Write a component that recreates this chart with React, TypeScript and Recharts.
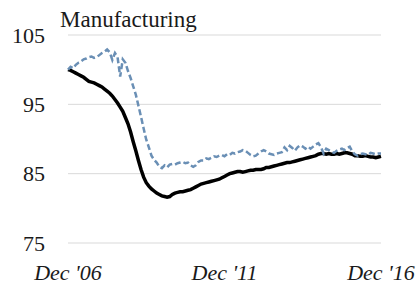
import React from 'react'
import { LineChart, Line, XAxis, YAxis, CartesianGrid } from 'recharts'

// monthly index, Dec 2006 = 100, Dec '06 .. Dec '16
const solidSeries = [
  100.0, 99.9, 99.7, 99.5, 99.3, 99.1, 98.9, 98.6, 98.3, 98.2, 98.1, 97.9,
  97.7, 97.5, 97.2, 96.9, 96.6, 96.2, 95.7, 95.2, 94.6, 94.0, 93.1, 92.2,
  91.0, 89.6, 88.3, 86.9, 85.6, 84.5, 83.7, 83.2, 82.8, 82.5, 82.2, 82.0,
  81.8, 81.7, 81.6, 81.7, 82.0, 82.2, 82.3, 82.4, 82.4, 82.5, 82.6, 82.7,
  82.9, 83.1, 83.3, 83.5, 83.6, 83.7, 83.8, 83.9, 84.0, 84.1, 84.2, 84.4,
  84.6, 84.8, 85.0, 85.1, 85.2, 85.3, 85.3, 85.2, 85.3, 85.4, 85.5, 85.5,
  85.6, 85.6, 85.6, 85.7, 85.9, 85.9, 86.0, 86.1, 86.2, 86.3, 86.4, 86.5,
  86.6, 86.6, 86.7, 86.8, 86.9, 87.0, 87.1, 87.2, 87.3, 87.4, 87.5, 87.6,
  87.8, 87.9, 87.9, 87.8, 87.9, 87.8, 87.8, 87.9, 87.8, 87.9, 88.0, 88.0,
  87.9, 87.8, 87.6, 87.6, 87.5, 87.5, 87.6, 87.5, 87.4, 87.4, 87.3, 87.4,
  87.5,
]

const dashedSeries = [
  100.0, 100.4, 100.2, 100.7, 101.0, 101.2, 101.5, 101.6, 101.8, 101.9, 101.7, 101.8,
  102.1, 102.4, 102.6, 102.9, 102.5, 101.4, 102.4, 101.8, 99.0, 101.5, 101.0, 99.8,
  98.8, 97.6, 96.4, 94.8, 93.2, 91.5, 89.9, 88.8, 87.6, 87.0, 86.6, 86.0,
  85.8, 86.2, 85.9, 86.3, 86.4, 86.3, 86.5, 86.6, 86.7, 86.5, 86.6, 86.2,
  86.0, 86.2, 86.7, 86.9, 86.9, 87.2, 87.1, 87.3, 87.5, 87.4, 87.6, 87.7,
  87.5, 87.8, 87.7, 88.0, 87.9, 88.1, 88.2, 88.4, 88.3, 88.0, 87.7, 87.5,
  87.6, 87.9, 88.2, 88.4, 88.2, 87.9, 87.8, 87.7, 87.9, 88.0, 88.1, 88.8,
  88.4, 89.0, 88.7, 88.3, 88.8, 89.1, 88.9, 88.6, 88.9, 88.6, 88.9, 89.2,
  89.4, 88.8, 87.9, 88.6, 88.4, 88.2, 88.0, 88.3, 88.5, 88.6, 88.4, 88.7,
  88.9, 88.2, 87.8, 87.6, 87.8, 87.9, 87.8, 87.7, 88.0, 87.9, 87.8, 87.9,
  87.9,
]

const xTicks = [0, 60, 120]
const xTickLabels = ["Dec '06", "Dec '11", "Dec '16"]
const yTicks = [75, 85, 95, 105]
const title = 'Manufacturing'

const font = "'Liberation Serif', 'DejaVu Serif', serif"

export default function App() {
  const data = solidSeries.map((v, i) => ({ i, solid: v, dashed: dashedSeries[i] }))

  return (
    <div style={{ position: 'absolute', left: 0, top: 0, width: 420, height: 289, background: '#fff' }}>
      <div
        style={{
          position: 'absolute',
          left: 60,
          top: 8,
          fontFamily: font,
          fontSize: 23,
          lineHeight: '23px',
          color: '#1a1a1a',
        }}
      >
        {title}
      </div>
      <LineChart width={420} height={289} data={data} margin={{ top: 35, right: 39, bottom: 16, left: 0 }}>
        <CartesianGrid vertical={false} stroke="#d9d9d9" strokeWidth={1} />
        <XAxis
          dataKey="i"
          type="number"
          domain={[0, 120]}
          ticks={xTicks}
          tickFormatter={(v) => xTickLabels[xTicks.indexOf(v)] ?? ''}
          axisLine={false}
          tickLine={false}
          height={30}
          tickMargin={15}
          interval={0}
          tick={{ fontFamily: font, fontSize: 22, fontStyle: 'italic', fill: '#1a1a1a' }}
        />
        <YAxis
          domain={[75, 105]}
          ticks={yTicks}
          width={68}
          axisLine={false}
          tickLine={false}
          tickMargin={17}
          tick={{ fontFamily: font, fontSize: 22, fill: '#1a1a1a' }}
        />
        <Line
          type="linear"
          dataKey="solid"
          stroke="#000"
          strokeWidth={3.5}
          dot={false}
          isAnimationActive={false}
        />
        <Line
          type="linear"
          dataKey="dashed"
          stroke="#6a8fb5"
          strokeWidth={2.5}
          strokeDasharray="6 3"
          dot={false}
          isAnimationActive={false}
        />
      </LineChart>
    </div>
  )
}
